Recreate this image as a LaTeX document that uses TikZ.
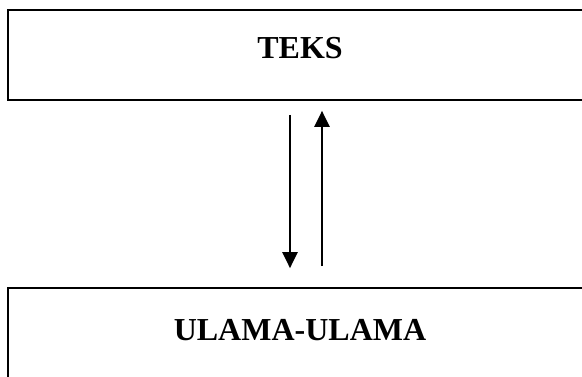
\documentclass[tikz,border=0pt]{standalone}
\usepackage{fontspec}
\setmainfont{Liberation Serif}
\usetikzlibrary{arrows.meta}
\begin{document}
\begin{tikzpicture}[x=1pt,y=-1pt,
  boxstyle/.style={draw=black,line width=1.7pt,rectangle,inner sep=0pt},
  lbl/.style={font=\bfseries\fontsize{32}{36}\selectfont,anchor=base,inner sep=0pt},
  conn/.style={line width=2.2pt,-{Triangle[length=16pt,width=15pt]}}]
\useasboundingbox (0,0) rectangle (582,376);
\clip (0,0) rectangle (582,376);
\fill[white] (0,0) rectangle (582,376);
\node[boxstyle,minimum width=584pt,minimum height=90pt] (teks) at (300,55) {};
\node[boxstyle,minimum width=584pt,minimum height=120pt] (ulama) at (300,348) {};
\node[lbl] (teksl) at (300,58) {TEKS};
\node[lbl] (ulamal) at (300,340) {ULAMA-ULAMA};
\coordinate (d1) at ([yshift=-14pt]teks.south -| 290,0);
\coordinate (d2) at ([yshift=19pt]ulama.north -| 290,0);
\coordinate (u1) at ([yshift=21pt]ulama.north -| 322,0);
\coordinate (u2) at ([yshift=-10pt]teks.south -| 322,0);
\draw[conn] (d1) -- (d2);
\draw[conn] (u1) -- (u2);
\end{tikzpicture}
\end{document}
